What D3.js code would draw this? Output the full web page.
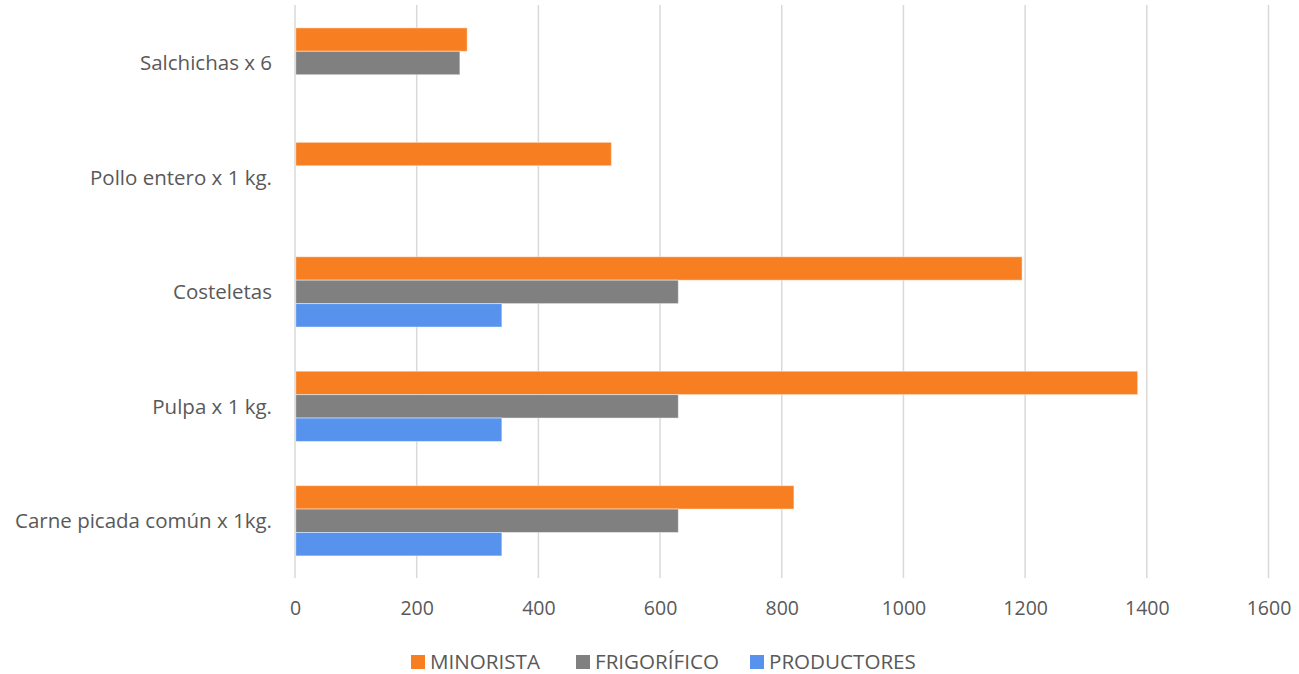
<!DOCTYPE html>
<html>
<head>
<meta charset="utf-8">
<script src="https://cdn.jsdelivr.net/npm/d3@7"></script>
<style>
  html, body { margin: 0; padding: 0; background: #fff; }
  svg { display: block; }
  text { font-family: "Open Sans", "Noto Sans", sans-serif; fill: #595959; }
</style>
</head>
<body>
<svg id="chart" width="1299" height="674"></svg>
<script>
const categories = ["Salchichas x 6", "Pollo entero x 1 kg.", "Costeletas", "Pulpa x 1 kg.", "Carne picada común x 1kg."];
const seriesNames = ["MINORISTA", "FRIGORÍFICO", "PRODUCTORES"];
const minorista   = [283, 520, 1195, 1385, 820];
const frigorifico = [271, null, 630, 630, 630];
const productores = [null, null, 340, 340, 340];
const xTicks = [0, 200, 400, 600, 800, 1000, 1200, 1400, 1600];
const colors = ["#F77F22", "#808080", "#5792ED"];

const seriesValues = [minorista, frigorifico, productores];
const svg = d3.select("#chart");

const x = d3.scaleLinear().domain([0, 1600]).range([295, 1268.5]);
const y0 = d3.scaleBand().domain(categories).range([5.8, 578]).paddingInner(0.386).paddingOuter(0.193);
const y1 = d3.scaleBand().domain(seriesNames).range([0, y0.bandwidth()]);

// gridlines
svg.append("g").selectAll("line").data(xTicks).join("line")
  .attr("x1", d => x(d)).attr("x2", d => x(d))
  .attr("y1", 5).attr("y2", 578)
  .attr("stroke", "#D9D9D9").attr("stroke-width", 1.5);

// bars
const rows = [];
categories.forEach((c, i) => {
  seriesNames.forEach((s, j) => {
    const v = seriesValues[j][i];
    if (v != null) rows.push({ c, s, v, j });
  });
});
svg.append("g").selectAll("rect").data(rows).join("rect")
  .attr("x", x(0) + 0.75)
  .attr("y", d => y0(d.c) + y1(d.s))
  .attr("width", d => x(d.v) - x(0) - 0.75)
  .attr("height", y1.bandwidth())
  .attr("fill", d => colors[d.j])
  .attr("stroke", "rgba(255,255,255,0.45)")
  .attr("stroke-width", 1);

// x axis labels
const xAxis = d3.axisBottom(x).tickValues(xTicks).tickSize(0).tickPadding(0).tickFormat(d3.format("d"));
const gx = svg.append("g").attr("transform", "translate(0,608)").call(xAxis);
gx.select(".domain").remove();
gx.selectAll("text").attr("font-size", "19.5px").attr("fill", "#595959")
  .attr("y", 0).attr("dy", "0.36em")
  .style("font-family", '"Open Sans", sans-serif');

// y axis labels
const yAxis = d3.axisLeft(y0).tickSize(0).tickPadding(0);
const gy = svg.append("g").attr("transform", "translate(272,0)").call(yAxis);
gy.select(".domain").remove();
gy.selectAll("text").attr("font-size", "20.5px").attr("fill", "#595959")
  .attr("dy", "0.36em")
  .style("font-family", '"Open Sans", sans-serif');

// legend
const legendX = [411, 576, 750];
const lg = svg.append("g");
seriesNames.forEach((s, j) => {
  lg.append("rect").attr("x", legendX[j]).attr("y", 655).attr("width", 14).attr("height", 14).attr("fill", colors[j]);
  lg.append("text").attr("x", legendX[j] + 19).attr("y", 662).attr("dy", "0.36em")
    .attr("font-size", "20.6px").text(s);
});
</script>
</body>
</html>
